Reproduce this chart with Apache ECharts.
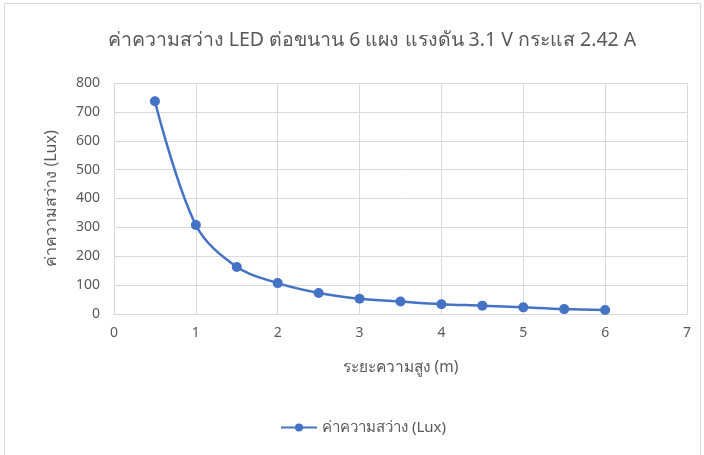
<!DOCTYPE html>
<html><head><meta charset="utf-8">
<script src="https://cdn.jsdelivr.net/npm/echarts@6/dist/echarts.min.js"></script>
<style>html,body{margin:0;padding:0;background:#fff}#c{width:704px;height:455px}</style>
</head><body><div id="c"></div>
<script>
const titleText = 'ค่าความสว่าง LED ต่อขนาน 6 แผง แรงดัน 3.1 V กระแส 2.42 A';
const seriesName = 'ค่าความสว่าง (Lux)';
const xName = 'ระยะความสูง (m)';
const yName = 'ค่าความสว่าง (Lux)';
const heights = [0.5, 1, 1.5, 2, 2.5, 3, 3.5, 4, 4.5, 5, 5.5, 6];
const lux = [737, 308, 163, 107, 73, 53, 43, 34, 29, 23, 17, 14];

const chart = echarts.init(document.getElementById('c'));
const txt = '#595959';
const font = "'Noto Sans', 'Liberation Sans', sans-serif";
chart.setOption({
  backgroundColor: '#fff',
  textStyle: {fontFamily: font},
  graphic: [{type: 'rect', shape: {x: 4.5, y: 3.5, width: 696, height: 460}, style: {fill: 'none', stroke: '#d9d9d9', lineWidth: 1}, silent: true}],
  title: {text: titleText, left: 367, textAlign: 'center', top: 25, textStyle: {color: txt, fontSize: 19.5, fontWeight: 'normal', fontFamily: font}},
  legend: {bottom: 15, left: 275, itemWidth: 36, itemHeight: 10, itemGap: 6, textStyle: {color: txt, fontSize: 15},
    data: [{name: seriesName}]},
  grid: {left: 114, right: 17, top: 83, bottom: 141, containLabel: false},
  xAxis: {type: 'value', min: 0, max: 7, interval: 1, name: xName, nameLocation: 'middle', nameGap: 46,
    nameTextStyle: {color: txt, fontSize: 15.5},
    axisLine: {show: true, lineStyle: {color: '#d9d9d9'}}, axisTick: {show: false},
    axisLabel: {color: txt, fontSize: 14, margin: 12},
    splitLine: {show: true, lineStyle: {color: '#d9d9d9'}}},
  yAxis: {type: 'value', min: 0, max: 800, interval: 100, name: yName, nameLocation: 'middle', nameGap: 55, nameRotate: 90,
    nameTextStyle: {color: txt, fontSize: 16},
    axisLine: {show: false}, axisTick: {show: false},
    axisLabel: {color: txt, fontSize: 14, margin: 14},
    splitLine: {show: true, lineStyle: {color: '#d9d9d9'}}},
  series: [{name: seriesName, type: 'line', smooth: 0.35, data: heights.map((h, i) => [h, lux[i]]),
    symbol: 'circle', symbolSize: 10, itemStyle: {color: '#4472c4'}, lineStyle: {color: '#4472c4', width: 2.5}}]
});
</script></body></html>
